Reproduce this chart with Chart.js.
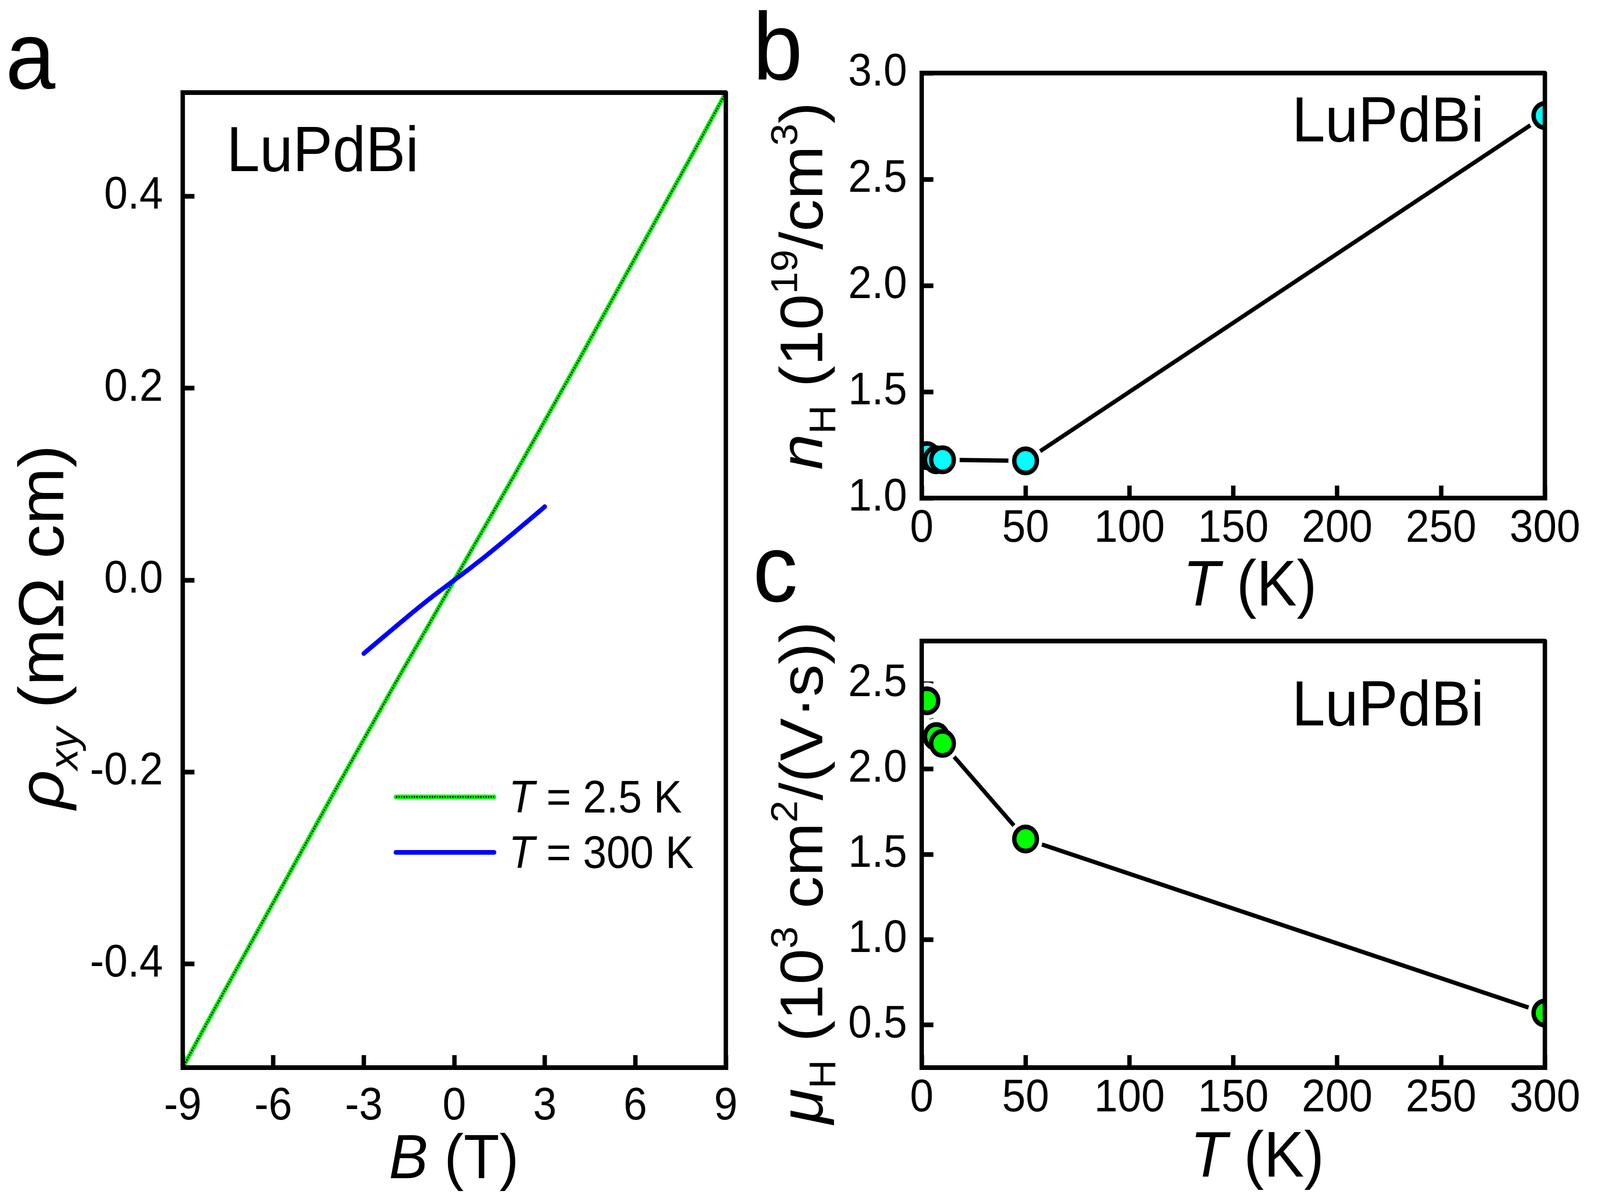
<!DOCTYPE html>
<html>
<head>
<meta charset="utf-8">
<script src="https://cdn.jsdelivr.net/npm/chart.js@4.4.0/dist/chart.umd.min.js"></script>
<style>
  html, body { margin: 0; padding: 0; background: #fff; overflow: hidden; }
  #wrap { position: relative; width: 4378px; height: 3077px; }
  #wrap canvas { position: absolute; left: 0; top: 0; }
</style>
</head>
<body>
<div id="wrap">
  <canvas id="chartA" width="4378" height="3077"></canvas>
  <canvas id="chartB" width="4378" height="3077"></canvas>
  <canvas id="chartC" width="4378" height="3077"></canvas>
</div>
<script>
// panel a: Hall resistivity vs field
const fieldLowT = [-9, -8, -7, -6, -5, -4, -3, -2, -1, 0, 1, 2, 3, 4, 5, 6, 7, 8, 9];
const rhoLowT = [-0.508, -0.450, -0.393, -0.336, -0.279, -0.222, -0.166, -0.110, -0.055, 0,
                 0.055, 0.110, 0.166, 0.222, 0.279, 0.336, 0.393, 0.450, 0.508];
const field300K = [-3, -2.5, -2, -1.5, -1, -0.5, 0, 0.5, 1, 1.5, 2, 2.5, 3];
const rho300K = [-0.0765, -0.0632, -0.0500, -0.0368, -0.0240, -0.0118, 0,
                 0.0118, 0.0240, 0.0368, 0.0500, 0.0632, 0.0765];

// panels b and c: carrier density and mobility vs temperature
const tempK = [2.5, 7, 10, 50, 300];
const carrierN = [1.20, 1.18, 1.18, 1.175, 2.80];
const mobility = [2.40, 2.19, 2.15, 1.59, 0.57];

// tick labels
const fieldTicks = [-9, -6, -3, 0, 3, 6, 9];
const rhoTicks = [-0.4, -0.2, 0, 0.2, 0.4];
const tempTicks = [0, 50, 100, 150, 200, 250, 300];
const nTicks = [1.0, 1.5, 2.0, 2.5, 3.0];
const muTicks = [0.5, 1.0, 1.5, 2.0, 2.5];

const FONT = '"Liberation Sans", Arial, sans-serif';
const W = 4378, H = 3077;

// stretch the drawing over the whole viewport
const sx = (window.innerWidth || W) / W;
const sy = (window.innerHeight || H) / H;
const wrap = document.getElementById('wrap');
wrap.style.width = (W * sx) + 'px';
wrap.style.height = (H * sy) + 'px';
document.querySelectorAll('#wrap canvas').forEach(c => {
    c.style.width = (W * sx) + 'px';
    c.style.height = (H * sy) + 'px';
});

// draw text made of pieces: [text, style], style may hold i (italic), sub, sup
function drawRich(ctx, parts, x, y, size, opts) {
    opts = opts || {};
    ctx.save();
    ctx.translate(x, y);
    if (opts.rot) ctx.rotate(opts.rot);
    let total = 0;
    const items = parts.map(([t, s]) => {
        s = s || '';
        const small = s.includes('sub') || s.includes('sup');
        const fs = small ? size * 0.62 : size;
        const italic = s.split(' ').includes('i');
        const f = (italic ? 'italic ' : '') + fs + 'px ' + FONT;
        ctx.font = f;
        const w = ctx.measureText(t).width;
        total += w;
        let dy = 0;
        if (s.includes('sub')) dy = size * 0.22;
        if (s.includes('sup')) dy = -size * 0.42;
        return { t, f, w, dy };
    });
    let cx = opts.align === 'left' ? 0 : -total / 2;
    ctx.fillStyle = '#000';
    ctx.textAlign = 'left';
    ctx.textBaseline = 'alphabetic';
    items.forEach(it => {
        ctx.font = it.f;
        ctx.fillText(it.t, cx, it.dy);
        cx += it.w;
    });
    ctx.restore();
}

function frame(chart) {
    const { ctx, chartArea: a } = chart;
    ctx.save();
    ctx.strokeStyle = '#000';
    ctx.lineWidth = 12;
    ctx.lineJoin = 'round';
    ctx.strokeRect(a.left, a.top, a.right - a.left, a.bottom - a.top);
    ctx.restore();
}

function xAxis(min, max, tickList, plotBottom, pad, fmt) {
    return {
        type: 'linear', position: 'bottom', min: min, max: max,
        afterBuildTicks: s => { s.ticks = tickList.map(v => ({ value: v })); },
        afterFit: s => { s.height = H - plotBottom; },
        border: { display: true, color: '#000', width: 12 },
        grid: { drawOnChartArea: false, drawTicks: true, tickLength: -32, tickWidth: 12, tickColor: '#000' },
        ticks: {
            color: '#000', padding: pad, maxRotation: 0, autoSkip: false,
            font: { family: FONT, size: 116, lineHeight: 1 },
            callback: fmt
        }
    };
}

function yAxis(min, max, tickList, plotLeft, pad) {
    return {
        type: 'linear', position: 'left', min: min, max: max,
        afterBuildTicks: s => { s.ticks = tickList.map(v => ({ value: v })); },
        afterFit: s => { s.width = plotLeft; },
        border: { display: true, color: '#000', width: 12 },
        grid: { drawOnChartArea: false, drawTicks: true, tickLength: -32, tickWidth: 12, tickColor: '#000' },
        ticks: {
            color: '#000', padding: pad, autoSkip: false,
            font: { family: FONT, size: 116, lineHeight: 1 },
            callback: v => v.toFixed(1)
        }
    };
}

const greenDots = [4, 3];

// ---------- panel a ----------
const aPlot = { left: 500, right: 1986, top: 237, bottom: 2733 };

let chartA = new Chart(document.getElementById('chartA'), {
    type: 'line',
    data: {
        datasets: [
            {
                label: 'T = 2.5 K',
                data: fieldLowT.map((b, i) => ({ x: b, y: rhoLowT[i] })),
                borderColor: '#00ff00', borderWidth: 12, pointRadius: 0,
                borderCapStyle: 'round', cubicInterpolationMode: 'monotone', clip: 0, order: 3
            },
            {
                label: 'dots',
                data: fieldLowT.map((b, i) => ({ x: b, y: rhoLowT[i] })),
                borderColor: 'rgba(0,0,0,0.8)', borderWidth: 5, borderDash: greenDots,
                pointRadius: 0, cubicInterpolationMode: 'monotone', clip: 0, order: 2
            },
            {
                label: 'T = 300 K',
                data: field300K.map((b, i) => ({ x: b, y: rho300K[i] })),
                borderColor: '#0000ff', borderWidth: 12, pointRadius: 0,
                borderCapStyle: 'round', cubicInterpolationMode: 'monotone', clip: 0, order: 1
            }
        ]
    },
    options: {
        responsive: false, animation: false, devicePixelRatio: 1, events: [],
        layout: { padding: { left: 0, top: aPlot.top, right: W - aPlot.right, bottom: 0 } },
        plugins: { legend: { display: false }, tooltip: { enabled: false } },
        scales: {
            x: xAxis(-9, 9, fieldTicks, aPlot.bottom, 75, v => String(v)),
            y: yAxis(-0.508, 0.508, rhoTicks, aPlot.left, 86)
        }
    },
    plugins: [{
        id: 'panelA',
        afterDraw(chart) {
            const ctx = chart.ctx;
            frame(chart);
            drawRich(ctx, [['a', '']], 15, 227, 245, { align: 'left' });
            drawRich(ctx, [['LuPdBi', '']], 620, 438, 163, { align: 'left' });
            drawRich(ctx, [['B', 'i'], [' (T)', '']], 1242, 3016, 160);
            drawRich(ctx, [['\u03C1', 'i'], ['xy', 'i sub'], [' (m\u03A9 cm)', '']], 173, 1605, 175, { rot: -Math.PI / 2 });

            // legend
            const ds = chart.data.datasets;
            const rows = [[ds[0], 2040, 2080, ' = 2.5 K'], [ds[2], 2182, 2222, ' = 300 K']];
            rows.forEach(([d, ly, ty, txt], k) => {
                ctx.save();
                ctx.lineCap = 'round';
                ctx.strokeStyle = d.borderColor;
                ctx.lineWidth = d.borderWidth;
                ctx.beginPath(); ctx.moveTo(1083, ly); ctx.lineTo(1352, ly); ctx.stroke();
                if (k === 0) {
                    ctx.strokeStyle = ds[1].borderColor;
                    ctx.lineWidth = ds[1].borderWidth;
                    ctx.setLineDash(greenDots);
                    ctx.lineCap = 'butt';
                    ctx.beginPath(); ctx.moveTo(1083, ly); ctx.lineTo(1352, ly); ctx.stroke();
                }
                ctx.restore();
                drawRich(ctx, [['T', 'i'], [txt, '']], 1392, ty, 116, { align: 'left' });
            });
        }
    }]
});

// ---------- panels b and c ----------
function tempChart(id, values, fill, yMin, yMax, yTicks, plot, extras) {
    const pts = tempK.map((t, i) => ({ x: t, y: values[i] }));
    return new Chart(document.getElementById(id), {
        type: 'line',
        data: {
            datasets: [
                {
                    label: 'markers', data: pts, showLine: false,
                    pointRadius: 31, pointBorderWidth: 12, pointBorderColor: '#000',
                    pointBackgroundColor: fill, clip: 0, order: 1
                },
                {
                    label: 'gap', data: pts, showLine: false,
                    pointRadius: 47, pointBorderWidth: 0, pointBackgroundColor: '#fff',
                    clip: 0, order: 2
                },
                {
                    label: 'line', data: pts, borderColor: '#000', borderWidth: 11,
                    pointRadius: 0, borderCapStyle: 'round', clip: 0, order: 3
                }
            ]
        },
        options: {
            responsive: false, animation: false, devicePixelRatio: 1, events: [],
            layout: { padding: { left: 0, top: plot.top, right: W - plot.right, bottom: 0 } },
            plugins: { legend: { display: false }, tooltip: { enabled: false } },
            scales: {
                x: xAxis(0, 300, tempTicks, plot.bottom, 54, v => String(v)),
                y: yAxis(yMin, yMax, yTicks, plot.left, 72)
            }
        },
        plugins: [{
            id: id + 'Text',
            afterDraw(chart) {
                frame(chart);
                extras(chart.ctx);
            }
        }]
    });
}

const bPlot = { left: 2522, right: 4270, top: 187, bottom: 1275 };
const cPlot = { left: 2522, right: 4270, top: 1641, bottom: 2733 };

let chartB = tempChart('chartB', carrierN, '#00ffff', 1.0, 3.0, nTicks, bPlot, ctx => {
    drawRich(ctx, [['b', '']], 2060, 204, 245, { align: 'left' });
    drawRich(ctx, [['LuPdBi', '']], 3535, 362, 163, { align: 'left' });
    drawRich(ctx, [['T', 'i'], [' (K)', '']], 3420, 1550, 165);
    drawRich(ctx, [['n', 'i'], ['H', 'sub'], [' (10', ''], ['19', 'sup'], ['/cm', ''], ['3', 'sup'], [')', '']],
        2250, 732, 165, { rot: -Math.PI / 2 });
});

let chartC = tempChart('chartC', mobility, '#00ff00', 0.25, 2.75, muTicks, cPlot, ctx => {
    drawRich(ctx, [['c', '']], 2060, 1540, 245, { align: 'left' });
    drawRich(ctx, [['LuPdBi', '']], 3535, 1857, 163, { align: 'left' });
    drawRich(ctx, [['T', 'i'], [' (K)', '']], 3440, 3012, 165);
    drawRich(ctx, [['\u03BC', 'i'], ['H', 'sub'], [' (10', ''], ['3', 'sup'], [' cm', ''], ['2', 'sup'], ['/(V\u00B7s))', '']],
        2250, 2234, 165, { rot: -Math.PI / 2 });
});
</script>
</body>
</html>
